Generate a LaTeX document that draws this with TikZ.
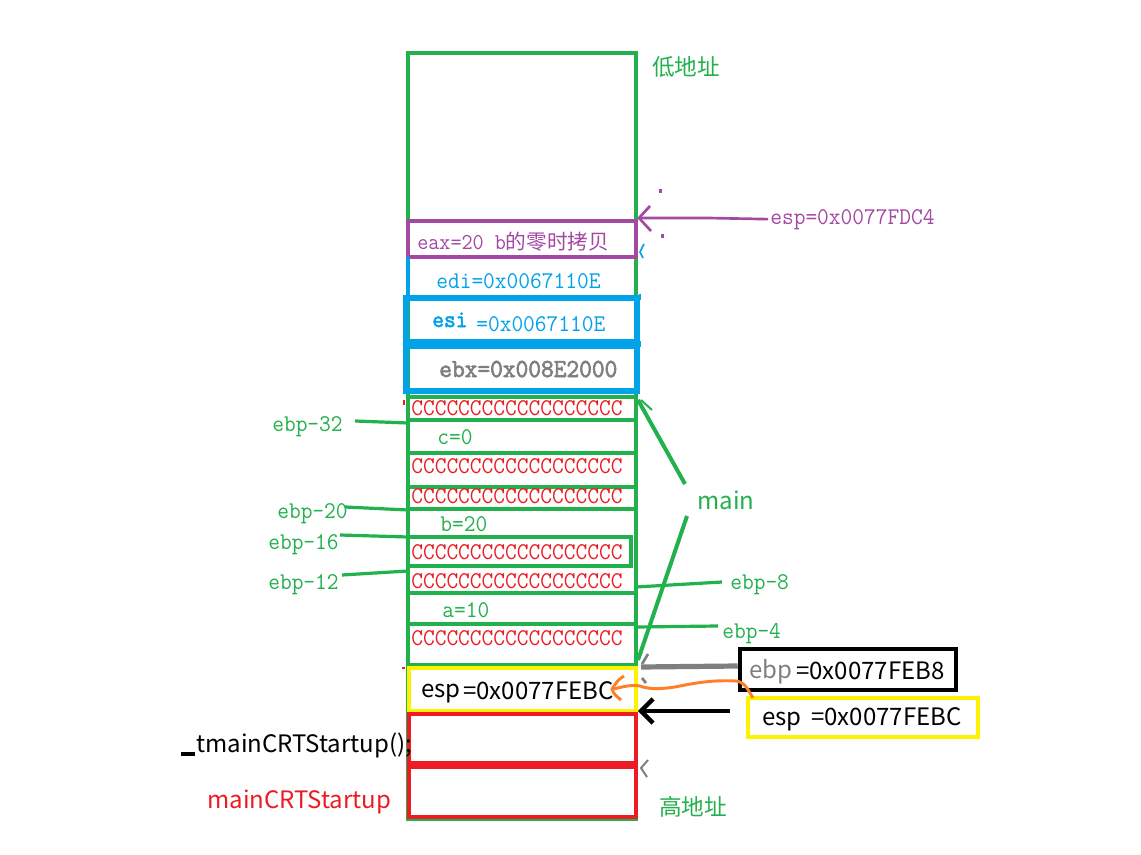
\documentclass[tikz,border=0pt]{standalone}
\usepackage{fontspec}
\newfontfamily\simfont[FakeStretch=0.95]{Latin Modern Mono}
\newfontfamily\simbold[FakeStretch=0.95,FakeBold=2.5]{Latin Modern Mono}
\newfontfamily\yhfont{Noto Sans CJK SC}
\definecolor{cgreen}{HTML}{22B14C}
\definecolor{cred}{HTML}{ED1C24}
\definecolor{cpurple}{HTML}{A349A4}
\definecolor{cblue}{HTML}{00A2E8}
\definecolor{cyellow}{HTML}{FFF200}
\definecolor{cgray}{HTML}{7F7F7F}
\definecolor{corange}{HTML}{FF7F27}
\tikzset{
  thin3/.style={line width=3pt},
  simtxt/.style={font=\simfont\fontsize{18}{18}\selectfont, inner sep=0pt, anchor=base west},
  yhtxt/.style={font=\yhfont\fontsize{18}{18}\selectfont, inner sep=0pt, anchor=base west},
  crow/.style={simtxt, text=cred},
  glabel/.style={simtxt, text=cgreen},
  gline/.style={draw=cgreen, line width=2.4pt},
}
\begin{document}
\begin{tikzpicture}[x=0.75pt,y=-0.75pt]
\useasboundingbox (0,0) rectangle (1141,855);
\fill[white] (0,0) rectangle (1141,855);

% ---- main column ----
\draw[cgreen, thin3] (408,53) rectangle (636,819);
% purple row
\draw[cpurple, thin3] (408,221) rectangle (636,257);
% edi row (blue left edge)
\draw[cblue, thin3] (408,257) -- (408,297);
% esi, ebx boxes
\draw[cblue, line width=4.5pt] (406,298) rectangle (637,342);
\draw[cblue, line width=4.5pt] (406,346) rectangle (637,391);
% green rows
\foreach \yy in {397,420,453,487,509,593,624,665}
  \draw[cgreen, thin3] (408,\yy) -- (636,\yy);
\draw[cgreen, line width=3.4pt] (408,537) rectangle (631,566);
% yellow & red boxes
\draw[cyellow, thin3] (409,668) rectangle (636,711);
\draw[cred, thin3] (409,714) rectangle (636,763);
\draw[cred, thin3] (409,767) rectangle (636,817);
\draw[cred, line width=1.5pt] (402,668) -- (405,668);
\draw[cred, line width=1.5pt] (404,400) -- (404,405);

% ---- texts in column ----
\node[simtxt, text=cpurple, font=\simfont\fontsize{17}{17}\selectfont] (eax) at (417,250) {eax=20 b{\yhfont\fontsize{15.5}{16}\selectfont 的零时拷贝}};
\node[simtxt, text=cblue] (edi) at (436,289) {edi=0x0067110E};
\node[simtxt, text=cblue, font=\simbold\fontsize{18}{18}\selectfont] (esi) at (432,327) {esi};
\node[simtxt, text=cblue] (esiv) at (476,331) {=0x0067110E};
\node[simtxt, text=cgray, font=\simbold\fontsize{19.5}{20}\selectfont] (ebx) at (439,377) {ebx=0x008E2000};

\node[crow] (r1) at (411,415) {CCCCCCCCCCCCCCCCCC};
\node[glabel] (cv) at (437,444) {c=0};
\node[crow] (r3) at (411,473) {CCCCCCCCCCCCCCCCCC};
\node[crow] (r4) at (411,503) {CCCCCCCCCCCCCCCCCC};
\node[glabel] (bv) at (440,531) {b=20};
\node[crow] (r6) at (411,559) {CCCCCCCCCCCCCCCCCC};
\node[crow] (r7) at (411,588) {CCCCCCCCCCCCCCCCCC};
\node[glabel] (av) at (442,617) {a=10};
\node[crow] (r9) at (411,645) {CCCCCCCCCCCCCCCCCC};

\node[yhtxt] (espa) at (421,697) {esp};
\node[yhtxt] (espav) at (463,699) {=0x0077FEBC};

% ---- left labels ----
\node[glabel] (l32) at (272,431) {ebp-32};
\node[glabel] (l20) at (277,518) {ebp-20};
\node[glabel] (l16) at (268,549) {ebp-16};
\node[glabel] (l12) at (268,589) {ebp-12};
\coordinate (c32a) at (355,421); \coordinate (c32b) at (408,423);
\coordinate (c20a) at (345,507); \coordinate (c20b) at (408,510);
\coordinate (c16a) at (340,535); \coordinate (c16b) at (408,537);
\coordinate (c12a) at (342,575); \coordinate (c12b) at (408,571);
\draw[gline] (c32a) -- (c32b);
\draw[gline] (c20a) -- (c20b);
\draw[gline] (c16a) -- (c16b);
\draw[gline] (c12a) -- (c12b);

\node[yhtxt, text=black] (tmain) at (196,752) {tmainCRTStartup();};
\draw[black, line width=3pt] (181,754) -- (195,754);
\node[yhtxt, text=cred] (mcrt) at (207,808) {mainCRTStartup};

% ---- right labels ----
\node[yhtxt, text=cgreen, font=\yhfont\fontsize{17}{17}\selectfont] (low) at (652,76) {低地址};
\node[yhtxt, text=cgreen, font=\yhfont\fontsize{17}{17}\selectfont] (high) at (659,815) {高地址};
\node[yhtxt, text=cgreen] (mainl) at (697,509) {main};
\node[glabel] (l8) at (730,589) {ebp-8};
\node[glabel] (l4) at (722,638) {ebp-4};
\coordinate (c8a) at (636,587); \coordinate (c8b) at (722,582);
\coordinate (c4a) at (636,627); \coordinate (c4b) at (718,626);
\draw[gline] (c8a) -- (c8b);
\draw[gline] (c4a) -- (c4b);
\coordinate (m1a) at (638,400); \coordinate (m1b) at (685,484);
\coordinate (m2a) at (687,516); \coordinate (m2b) at (638,660);
\draw[gline, line width=3pt] (m1a) -- (m1b);
\draw[gline, line width=3pt] (m2a) -- (m2b);
\draw[gline, line width=1.5pt] (641,400) -- (652,410);

% purple esp
\node[simtxt, text=cpurple] (espp) at (770,225) {esp=0x0077FDC4};
\coordinate (pt) at (639,218);
\draw[cpurple, line width=2pt] (espp.west) ++(-2,-1) -- (708,218) -- (pt);
\draw[cpurple, line width=2pt] (650,206) -- (pt) -- (651,231);
\fill[cpurple] (659,189) rectangle (662,193);
\fill[cpurple] (661,234) rectangle (664,238);
% small blue ticks
\draw[cblue, line width=1.2pt] (644,244) -- (640,252) -- (643,258);
\draw[cblue, line width=1.2pt] (640,294) -- (640,300);
\draw[cblue, line width=1.2pt] (640,341) -- (640,347);

% ---- register boxes ----
\node[draw=black, line width=3.4pt, minimum width=216*0.75pt, minimum height=41*0.75pt, inner sep=0pt] (ebpbox) at (848,669.5) {};
\node[yhtxt, text=cgray] (ebpt) at (749,678) {ebp};
\node[yhtxt] (ebpv) at (796,679) {=0x0077FEB8};
\node[draw=cyellow, line width=3.4pt, minimum width=230*0.75pt, minimum height=39*0.75pt, inner sep=0pt] (espbox) at (863,717.5) {};
\node[yhtxt] (espt) at (762,725) {esp};
\node[yhtxt] (espv) at (811,725) {=0x0077FEBC};

% gray arrow ebp
\coordinate (gt) at (641,667);
\draw[cgray, line width=3.9pt] (ebpbox.west |- 0,666) -- (gt);
\draw[cgray, line width=2pt] (648,654) -- (642,664);
\draw[cgray, line width=2pt] (642,678) -- (646,683);
% orange wavy arrow
\coordinate (ot) at (612,689);
\draw[corange, line width=2.2pt] (753,698) .. controls (748,690) and (745,682) .. (736,681)
  .. controls (715,680) and (700,682) .. (680,686)
  .. controls (665,689) and (650,690) .. (640,686)
  .. controls (630,684) and (620,688) .. (ot);
\draw[corange, line width=2.2pt] (624,676) .. controls (618,680) .. (ot) .. controls (614,694) .. (621,700);
% black arrow esp
\coordinate (bt) at (641,711);
\draw[black, line width=3.4pt] (730,711) -- (bt);
\draw[black, line width=3.4pt] (653,699) -- (bt) -- (653,723);
% gray chevron at red boundary
\draw[cgray, line width=1.5pt] (648,760) -- (641,768) -- (647,777);
\end{tikzpicture}
\end{document}
